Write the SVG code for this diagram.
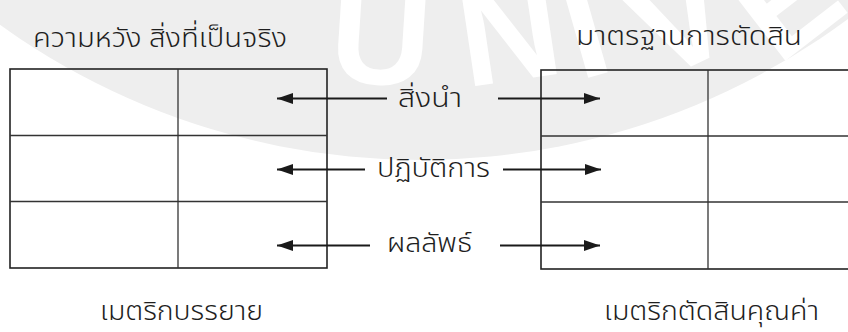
<svg xmlns="http://www.w3.org/2000/svg" width="848" height="332" viewBox="0 0 848 332">
  <defs>
    <style>
      .t { font-family: "Noto Sans Thai", "Noto Sans", "DejaVu Sans", sans-serif; font-size: 27px; font-weight: 300; fill: #1e1e1e; }
      .wm { font-family: "Liberation Sans", Arial, sans-serif; font-size: 140px; font-weight: bold; fill: #ffffff; }
      .box { fill: none; stroke: #222; stroke-width: 1.6; }
      .grid { fill: none; stroke: #333; stroke-width: 1.3; }
      .arrow { fill: none; stroke: #1a1a1a; stroke-width: 1.8; marker-end: url(#head); }
    </style>
    <marker id="head" markerUnits="userSpaceOnUse" markerWidth="17" markerHeight="12" refX="16" refY="6" orient="auto">
      <path d="M0,0.5 L16,6 L0,11.5 z" fill="#1a1a1a"/>
    </marker>
  </defs>

  <rect width="848" height="332" fill="#ffffff"/>

  <g id="watermark">
    <circle cx="420" cy="-560" r="720" fill="#eeeeee"/>
    <text class="wm" text-anchor="middle" transform="translate(378,84) rotate(3.7)">U</text>
    <text class="wm" text-anchor="middle" transform="translate(516,80) rotate(-8.5)">N</text>
    <text class="wm" text-anchor="middle" transform="translate(598,75) rotate(-15.9)">I</text>
    <text class="wm" text-anchor="middle" transform="translate(700,62) rotate(-25.6)">V</text>
    <text class="wm" text-anchor="middle" transform="translate(815,38) rotate(-37.7)">E</text>
  </g>

  <g id="table-left">
    <text class="t" x="33" y="47" textLength="254" lengthAdjust="spacingAndGlyphs">ความหวัง สิ่งที่เป็นจริง</text>
    <rect class="box" x="10" y="69" width="317" height="199" fill="#ffffff"/>
    <line class="grid" x1="178" y1="69" x2="178" y2="268"/>
    <line class="grid" x1="10" y1="135.5" x2="327" y2="135.5"/>
    <line class="grid" x1="10" y1="201.5" x2="327" y2="201.5"/>
    <text class="t" x="100" y="320" textLength="163" lengthAdjust="spacingAndGlyphs">เมตริกบรรยาย</text>
  </g>

  <g id="table-right">
    <text class="t" x="576" y="45" textLength="226" lengthAdjust="spacingAndGlyphs">มาตรฐานการตัดสิน</text>
    <rect class="box" x="541" y="70" width="320" height="199" fill="#ffffff"/>
    <line class="grid" x1="708" y1="70" x2="708" y2="269"/>
    <line class="grid" x1="541" y1="136" x2="848" y2="136"/>
    <line class="grid" x1="541" y1="202" x2="848" y2="202"/>
    <text class="t" x="604" y="320" textLength="215" lengthAdjust="spacingAndGlyphs">เมตริกตัดสินคุณค่า</text>
  </g>

  <g id="connectors">
    <path class="arrow" d="M387,98.5 H277"/>
    <path class="arrow" d="M498,98.5 H600"/>
    <text class="t" x="398" y="107" textLength="64" lengthAdjust="spacingAndGlyphs">สิ่งนำ</text>

    <path class="arrow" d="M365,169.5 H277"/>
    <path class="arrow" d="M503,169.5 H601"/>
    <text class="t" x="377" y="177" textLength="113" lengthAdjust="spacingAndGlyphs">ปฏิบัติการ</text>

    <path class="arrow" d="M370,245.5 H277"/>
    <path class="arrow" d="M500,245.5 H600"/>
    <text class="t" x="387" y="252" textLength="85" lengthAdjust="spacingAndGlyphs">ผลลัพธ์</text>
  </g>
</svg>
